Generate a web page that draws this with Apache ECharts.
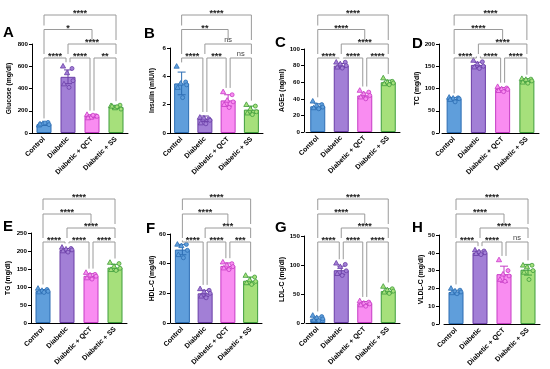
<!DOCTYPE html>
<html><head><meta charset="utf-8">
<script src="https://cdn.jsdelivr.net/npm/echarts@6/dist/echarts.min.js"></script>
<style>html,body{margin:0;padding:0;background:#fff}#c{width:550px;height:369px}</style>
</head><body><div id="c"></div>
<script>
// ---------- DATA ----------
const categories = ['Control', 'Diabetic', 'Diabetic + QCT', 'Diabetic + SS'];
const panelLetters = ['A', 'B', 'C', 'D', 'E', 'F', 'G', 'H'];
const yNames = ['Glucose (mg/dl)', 'Insulin (mIU/l)', 'AGEs (ng/ml)', 'TC (mg/dl)',
                'TG (mg/dl)', 'HDL-C (mg/dl)', 'LDL-C (mg/dl)', 'VLDL-C (mg/dl)'];
const yMax = [800, 6, 100, 200, 250, 60, 150, 50];
const yInterval = [200, 2, 20, 50, 50, 20, 50, 10];

const glucoseMean = [80, 505, 150, 235];
const glucoseSd = [12, 62, 14, 14];
const glucosePoints = [[70, 95, 85, 75, 80, 90], [600, 580, 540, 470, 440, 410], [165, 155, 140, 150, 135, 160], [245, 250, 225, 215, 240, 235]];

const insulinMean = [3.5, 1.0, 2.3, 1.65];
const insulinSd = [0.8, 0.2, 0.4, 0.25];
const insulinPoints = [[4.7, 3.6, 3.5, 3.4, 3.2, 2.5], [1.1, 1.0, 1.05, 0.9, 0.7, 0.65], [2.9, 2.7, 2.3, 2.2, 2.0, 1.8], [2.0, 1.9, 1.7, 1.5, 1.4, 1.3]];

const agesMean = [31, 80, 44, 60];
const agesSd = [3, 2.5, 3, 2.5];
const agesPoints = [[37, 33, 32, 30, 29, 28], [84, 84, 82, 80, 78, 77], [50, 48, 46, 44, 42, 40], [65, 61, 60, 59, 58, 57]];

const tcMean = [77, 153, 99, 118];
const tcSd = [3, 6, 3, 4];
const tcPoints = [[80, 79, 78, 77, 75, 70], [163, 160, 155, 150, 148, 145], [104, 101, 99, 98, 95, 93], [122, 121, 120, 117, 114, 112]];

const tgMean = [89, 203, 131, 154];
const tgSd = [4, 4, 6, 9];
const tgPoints = [[96, 93, 90, 88, 86, 85], [210, 207, 205, 203, 200, 197], [140, 135, 133, 130, 125, 122], [168, 165, 157, 152, 148, 146]];

const hdlMean = [49.5, 20, 38.5, 28.5];
const hdlSd = [3.5, 2, 2, 2.5];
const hdlPoints = [[53, 53, 52, 49, 46, 44], [23, 22, 21, 20, 18, 17], [41, 40, 39, 38, 37, 36], [32, 31, 29, 28, 27, 26]];

const ldlMean = [7.5, 91, 34, 55];
const ldlSd = [3, 7, 3, 4];
const ldlPoints = [[13, 11, 9, 7, 5, 4], [103, 101, 97, 90, 85, 82], [38, 36, 34, 33, 31, 29], [63, 59, 57, 55, 53, 51]];

const vldlMean = [18, 40, 28, 30.5];
const vldlSd = [1, 1, 4.5, 3];
const vldlPoints = [[20, 19, 18.5, 18, 17.5, 17], [41.5, 41, 40.5, 40, 39.5, 39], [36, 30, 28, 27, 25, 24], [33, 33, 32, 30, 29, 25]];

// brackets: [from, to, level]
const bracketPairs = [[0, 1, 1], [1, 2, 1], [2, 3, 1], [1, 3, 2], [0, 2, 3], [0, 3, 4]];
const glucoseSig = ['****', '****', '**', '****', '*', '****'];
const insulinSig = ['****', '***', 'ns', 'ns', '**', '****'];
const agesSig = ['****', '****', '****', '****', '****', '****'];
const tcSig = ['****', '****', '****', '****', '****', '****'];
const tgSig = ['****', '****', '****', '****', '****', '****'];
const hdlSig = ['****', '****', '***', '***', '****', '****'];
const ldlSig = ['****', '****', '****', '****', '****', '****'];
const vldlSig = ['****', '****', 'ns', '****', '****', '****'];

const means = [glucoseMean, insulinMean, agesMean, tcMean, tgMean, hdlMean, ldlMean, vldlMean];
const sds = [glucoseSd, insulinSd, agesSd, tcSd, tgSd, hdlSd, ldlSd, vldlSd];
const points = [glucosePoints, insulinPoints, agesPoints, tcPoints, tgPoints, hdlPoints, ldlPoints, vldlPoints];
const sigs = [glucoseSig, insulinSig, agesSig, tcSig, tgSig, hdlSig, ldlSig, vldlSig];

// ---------- STYLE / LAYOUT ----------
const fills = ['#5f9edb', '#a27fd6', '#f98cf1', '#a6e07b'];
const edges = ['#2c6db3', '#6a3ea6', '#c53cc4', '#3f9d3c'];
const FONT = 'Liberation Sans, Arial, sans-serif';
const layout = [
  { left: 32, top: 44, width: 96, height: 89, yOff: 0, nameGap: 19, lx: 3, ly: 32.5 },
  { left: 170, top: 48, width: 93, height: 85, yOff: 0, nameGap: 14, lx: 144, ly: 34 },
  { left: 306, top: 49, width: 94, height: 83, yOff: 2, nameGap: 14, lx: 275, ly: 43 },
  { left: 442, top: 44, width: 97, height: 89, yOff: 3, nameGap: 14, lx: 412, ly: 44 },
  { left: 31, top: 233, width: 96, height: 90, yOff: 0, nameGap: 19, lx: 3, ly: 227 },
  { left: 171, top: 234, width: 91, height: 89, yOff: 1, nameGap: 14, lx: 146, ly: 229 },
  { left: 306, top: 236, width: 94, height: 87, yOff: 2, nameGap: 15, lx: 275, ly: 228 },
  { left: 444, top: 235, width: 96, height: 90, yOff: 5, nameGap: 14, lx: 412, ly: 228 }
];
const levelY = [[58, 44, 29.5, 15], [242, 228, 214, 199]];
const jitter = [-5, 4, -1, 5, -4, 1];

const grids = [], xAxes = [], yAxes = [], series = [], graphics = [];

layout.forEach((L, p) => {
  grids.push({ left: L.left, top: L.top, width: L.width, height: L.height, containLabel: false });
  xAxes.push({
    type: 'category', gridIndex: p, data: categories,
    axisLine: { lineStyle: { color: '#000', width: 1 } },
    axisTick: { alignWithLabel: true, length: 3, lineStyle: { color: '#000' } },
    axisLabel: { rotate: 45, fontSize: 7, fontWeight: 'bold', color: '#000', fontFamily: FONT, margin: 5, interval: 0 }
  });
  yAxes.push({
    type: 'value', gridIndex: p, min: 0, max: yMax[p], interval: yInterval[p], offset: L.yOff,
    name: yNames[p], nameLocation: 'middle', nameGap: L.nameGap,
    nameTextStyle: { fontSize: 6.8, fontWeight: 'bold', color: '#000', fontFamily: FONT },
    axisLine: { show: true, lineStyle: { color: '#000', width: 1 } },
    axisTick: { show: true, length: 3, lineStyle: { color: '#000' } },
    splitLine: { show: false },
    axisLabel: { fontSize: 6.2, fontWeight: 'bold', color: '#000', fontFamily: FONT, margin: 4 }
  });

  const mean = means[p], sd = sds[p], pts = points[p], sig = sigs[p];

  series.push({
    type: 'bar', xAxisIndex: p, yAxisIndex: p, barWidth: 15, z: 2,
    data: mean.map((m, k) => ({ value: m, itemStyle: { color: fills[k], borderColor: edges[k], borderWidth: 1 } }))
  });

  series.push({
    type: 'custom', xAxisIndex: p, yAxisIndex: p, z: 3, clip: false,
    data: mean.map((m, k) => [k, m, sd[k]]),
    renderItem: (params, api) => {
      const k = api.value(0), m = api.value(1), s = api.value(2);
      const hi = api.coord([k, m + s]), lo = api.coord([k, m - s]);
      const st = { stroke: edges[k], lineWidth: 1 };
      return { type: 'group', children: [
        { type: 'line', shape: { x1: hi[0], y1: hi[1], x2: lo[0], y2: lo[1] }, style: st },
        { type: 'line', shape: { x1: hi[0] - 4, y1: hi[1], x2: hi[0] + 4, y2: hi[1] }, style: st },
        { type: 'line', shape: { x1: lo[0] - 4, y1: lo[1], x2: lo[0] + 4, y2: lo[1] }, style: st }
      ] };
    }
  });

  series.push({
    type: 'custom', xAxisIndex: p, yAxisIndex: p, z: 4, clip: false,
    data: pts.flatMap((arr, k) => arr.map((v, j) => [k, v, j])),
    renderItem: (params, api) => {
      const k = api.value(0), v = api.value(1), j = api.value(2);
      const c = api.coord([k, v]);
      const x = c[0] + jitter[j], y = c[1];
      const st = { fill: fills[k], stroke: edges[k], lineWidth: 0.8 };
      if (j % 2 === 0) {
        return { type: 'polygon', shape: { points: [[x, y - 2.8], [x - 2.6, y + 1.8], [x + 2.6, y + 1.8]] }, style: st };
      }
      return { type: 'circle', shape: { cx: x, cy: y, r: 2 }, style: st };
    }
  });

  const row = p < 4 ? 0 : 1;
  series.push({
    type: 'custom', xAxisIndex: p, yAxisIndex: p, z: 5, clip: false,
    data: bracketPairs.map((b, i) => [b[0], b[1], b[2], i]),
    renderItem: (params, api) => {
      const a = api.value(0), b = api.value(1), lev = api.value(2), idx = api.value(3);
      const ly = levelY[row][lev - 1];
      let xa = api.coord([a, 0])[0], xb = api.coord([b, 0])[0];
      if (lev === 1) {
        if (bracketPairs.some(q => q[2] === 1 && q[1] === a)) xa += 2;
        if (bracketPairs.some(q => q[2] === 1 && q[0] === b)) xb -= 2;
      }
      const bottom = k => {
        let best = null;
        bracketPairs.forEach(q => {
          if (q[2] < lev && q[0] <= k && k <= q[1] && (best === null || q[2] > best)) best = q[2];
        });
        if (best !== null) return levelY[row][best - 1] - 4;
        const top = Math.max(mean[k] + sd[k], Math.max.apply(null, pts[k]));
        return api.coord([k, top])[1] - 4;
      };
      const st = { stroke: '#9a9a9a', lineWidth: 1, fill: null };
      const label = sig[idx];
      const isNs = label === 'ns';
      return { type: 'group', children: [
        { type: 'polyline', shape: { points: [[xa, bottom(a)], [xa, ly], [xb, ly], [xb, bottom(b)]] }, style: st },
        { type: 'text', style: {
            x: (xa + xb) / 2, y: isNs ? ly - 4 : ly + 3.5, text: label,
            align: 'center', verticalAlign: isNs ? 'middle' : 'bottom',
            fontSize: isNs ? 7.5 : 9, fontWeight: isNs ? 'normal' : 'bold',
            fontFamily: FONT, fill: isNs ? '#444' : '#222' } }
      ] };
    }
  });

  graphics.push({ type: 'text', x: L.lx, y: L.ly, style: { text: panelLetters[p], fontSize: 15, fontWeight: 'bold', fontFamily: FONT, fill: '#000', verticalAlign: 'middle' } });
});

const chart = echarts.init(document.getElementById('c'), null, { renderer: 'canvas' });
chart.setOption({
  animation: false,
  backgroundColor: '#fff',
  grid: grids, xAxis: xAxes, yAxis: yAxes, series: series, graphic: graphics
});
</script></body></html>
